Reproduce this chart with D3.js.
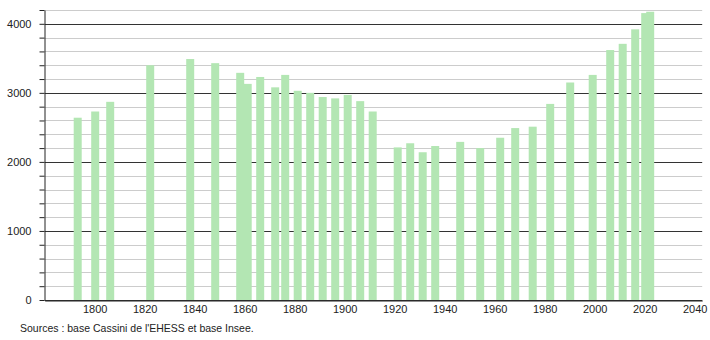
<!DOCTYPE html>
<html lang="fr">
<head>
  <meta charset="UTF-8">
  <title>Évolution démographique</title>
  <script src="https://d3js.org/d3.v7.min.js"></script>
  <style>
    body { margin: 0; background: #fff; }
    svg text { font-family: "Liberation Sans", Arial, sans-serif; font-size: 11px; fill: #222; }
  </style>
</head>
<body>
  <div id="chart"></div>

  <script>
    // Census years and population
    const years = [1793, 1800, 1806, 1822, 1838, 1848, 1858, 1861, 1866, 1872, 1876, 1881,
                   1886, 1891, 1896, 1901, 1906, 1911, 1921, 1926, 1931, 1936, 1946, 1954,
                   1962, 1968, 1975, 1982, 1990, 1999, 2006, 2011, 2016, 2020, 2022];
    const population = [2640, 2730, 2870, 3400, 3490, 3430, 3290, 3130, 3230, 3080, 3260, 3030,
                        3000, 2940, 2920, 2970, 2880, 2730, 2210, 2270, 2140, 2230, 2290, 2200,
                        2350, 2490, 2510, 2840, 3150, 3260, 3620, 3710, 3920, 4155, 4175];
    const xTicks = [1800, 1820, 1840, 1860, 1880, 1900, 1920, 1940, 1960, 1980, 2000, 2020, 2040];
    const yTicks = [0, 1000, 2000, 3000, 4000];
    const source = "Sources : base Cassini de l'EHESS et base Insee.";

    const data = years.map((yr, i) => ({ year: yr, value: population[i] }));

    const W = 710, H = 340;

    const svg = d3.select("#chart")
      .append("svg")
      .attr("width", W)
      .attr("height", H);

    // scales
    const x = d3.scaleLinear().domain([1780, 2043]).range([44.7, 702.2]);
    const y = d3.scaleLinear().domain([0, 4200]).range([300, 10]);

    const minor = d3.range(0, 4201, 200);

    // grid lines, light every 200, dark every 1000
    svg.append("g")
      .selectAll("line")
      .data(minor)
      .enter().append("line")
        .attr("x1", x.range()[0])
        .attr("x2", x.range()[1])
        .attr("y1", d => Math.round(y(d)) + 0.5)
        .attr("y2", d => Math.round(y(d)) + 0.5)
        .attr("stroke", d => d % 1000 === 0 ? "#333" : "#ccc")
        .attr("stroke-width", 1);

    // bars
    const barW = 8;
    svg.append("g")
      .selectAll("rect")
      .data(data)
      .enter().append("rect")
        .attr("x", d => x(d.year) - barW / 2 + 0.5)
        .attr("y", d => y(d.value))
        .attr("width", barW)
        .attr("height", d => y(0) - y(d.value))
        .attr("fill", "#b3e6b3");

    // y axis
    const yAxis = svg.append("g")
      .attr("transform", "translate(" + (Math.round(x.range()[0]) - 0.5) + ",0)")
      .call(d3.axisLeft(y)
        .tickValues(minor)
        .tickSize(5)
        .tickSizeOuter(0)
        .tickPadding(8)
        .tickFormat(d => yTicks.includes(d) ? d : ""));
    yAxis.selectAll("path, line").attr("stroke", "#222");

    // x axis
    const xAxis = svg.append("g")
      .attr("transform", "translate(0," + (y(0) + 0.5) + ")")
      .call(d3.axisBottom(x)
        .tickValues(xTicks)
        .tickSize(0)
        .tickSizeOuter(0)
        .tickPadding(5)
        .tickFormat(d3.format("d")));
    xAxis.select(".domain").attr("stroke", "#222");

    svg.selectAll(".tick text").style("font-size", "11px").attr("fill", "#222");

    // source note
    svg.append("text")
      .attr("x", 20)
      .attr("y", 332)
      .style("font-size", "10.5px")
      .text(source);
  </script>
</body>
</html>
